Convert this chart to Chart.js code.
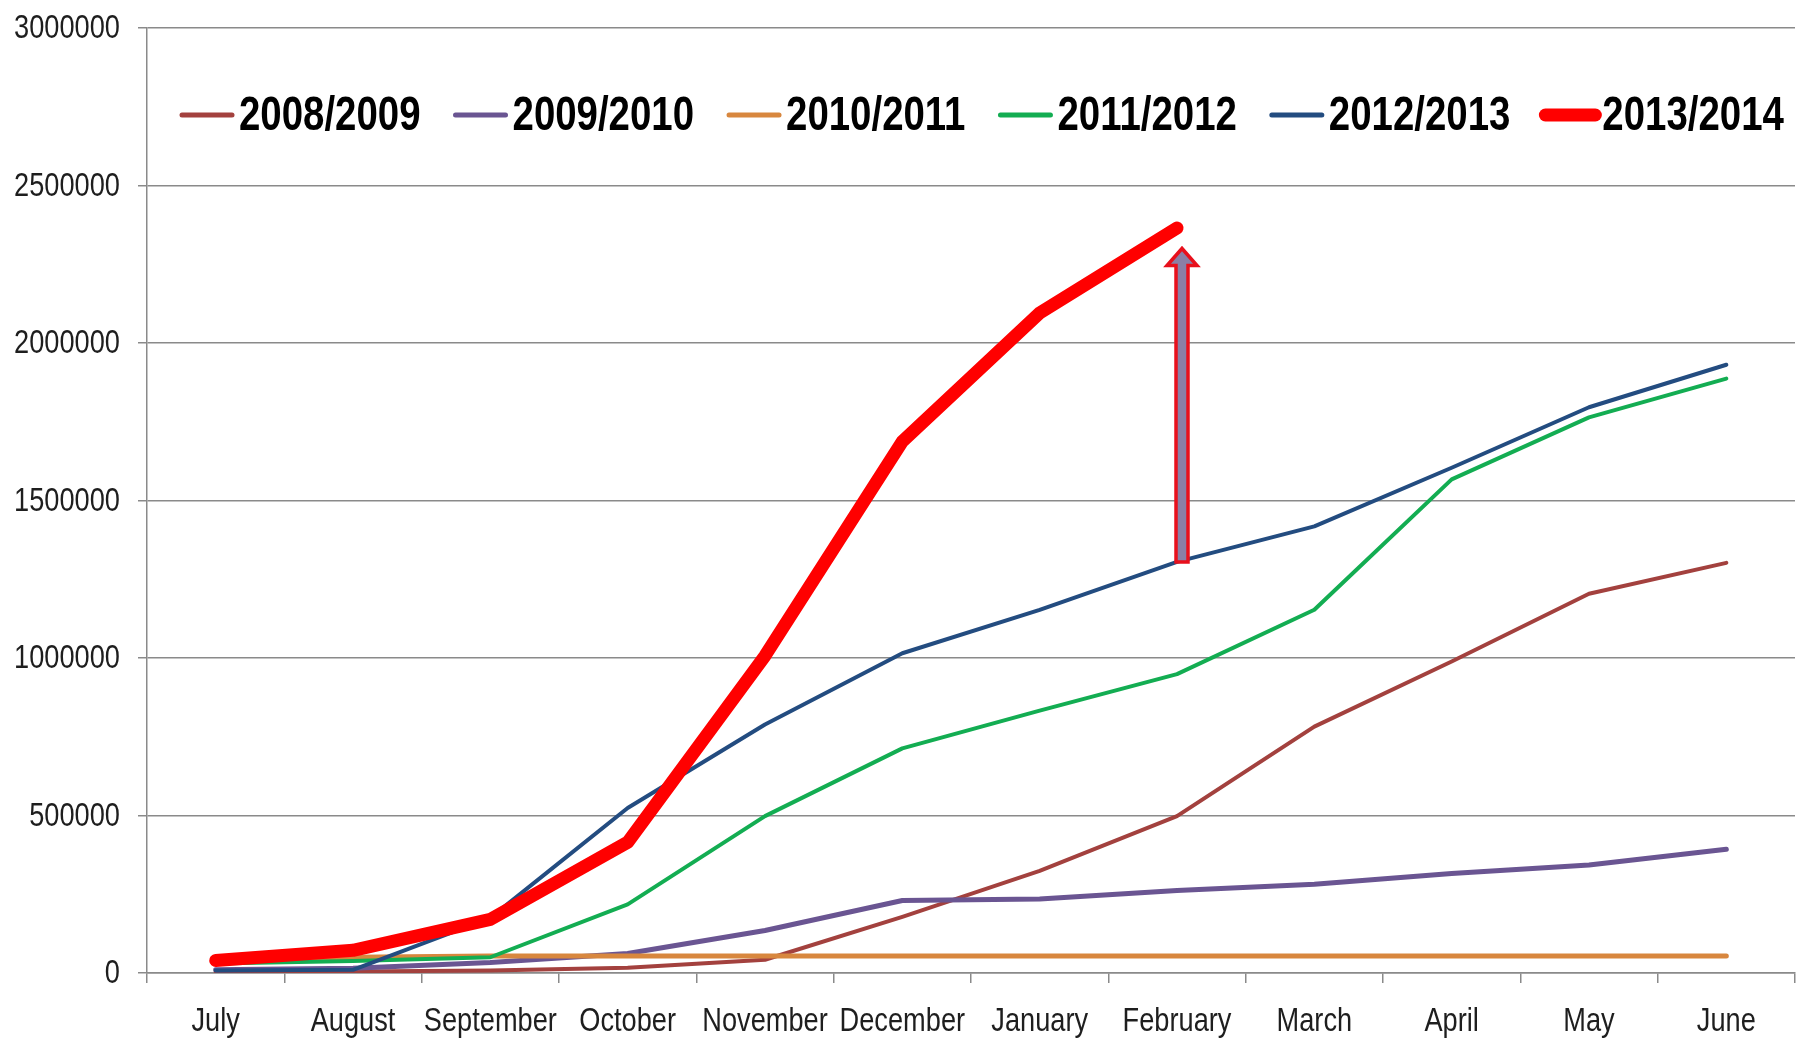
<!DOCTYPE html>
<html>
<head>
<meta charset="utf-8">
<script src="https://cdn.jsdelivr.net/npm/chart.js@4.4.0/dist/chart.umd.min.js"></script>
<style>
    html, body { margin: 0; padding: 0; background: #ffffff; }
    #wrap { width: 1797px; height: 1045px; }
</style>
</head>
<body>
<div id="wrap"><canvas id="chart"></canvas></div>
<script>
// Meses de la temporada (julio a junio)
const months = ['July', 'August', 'September', 'October', 'November', 'December',
    'January', 'February', 'March', 'April', 'May', 'June'];

// Valores acumulados
const season0809 = [5000, 5000, 8000, 17000, 42000, 178000, 324000, 498000, 782000, 989000, 1204000, 1302000];
const season0910 = [10000, 15000, 33000, 62000, 135000, 230000, 235000, 262000, 282000, 316000, 343000, 393000];
const season1011 = [35000, 50000, 54000, 54000, 54000, 54000, 54000, 54000, 54000, 54000, 54000, 54000];
const season1112 = [30000, 38000, 50000, 218000, 498000, 713000, 833000, 949000, 1153000, 1567000, 1764000, 1887000];
const season1213 = [8000, 10000, 175000, 524000, 789000, 1015000, 1153000, 1305000, 1418000, 1604000, 1796000, 1931000];
const season1314 = [40000, 72000, 170000, 415000, 1007000, 1687000, 2095000, 2365000];

const seasonLabels = ['2008/2009', '2009/2010', '2010/2011', '2011/2012', '2012/2013', '2013/2014'];
const yTicks = [0, 500000, 1000000, 1500000, 2000000, 2500000, 3000000];

// Flecha entre 2012/2013 y 2013/2014 en febrero
const arrowMonth = 'February';
const arrowFrom = 1305000;
const arrowTo = 2300000;

const FONT = '"Liberation Sans", Arial, sans-serif';
const SQUEEZE = 0.8; // texto estrecho tipo Calibri

// Escribe texto comprimido horizontalmente
function drawNarrow(ctx, text, x, y, align) {
    ctx.save();
    ctx.translate(x, y);
    ctx.scale(SQUEEZE, 1);
    ctx.textAlign = align;
    ctx.fillText(text, 0, 0);
    ctx.restore();
}

// Etiquetas de los ejes
const narrowTicks = {
    id: 'narrowTicks',
    afterDraw(chart) {
        const ctx = chart.ctx;
        const xs = chart.scales.x, ys = chart.scales.y;
        ctx.save();
        ctx.fillStyle = '#1e1e1e';
        ctx.font = '34px ' + FONT;
        ctx.textBaseline = 'middle';
        ys.ticks.forEach((t, i) => {
            drawNarrow(ctx, String(t.value), ys.right - 27, ys.getPixelForTick(i) + 1, 'right');
        });
        xs.ticks.forEach((t, i) => {
            drawNarrow(ctx, xs.getLabelForValue(t.value), xs.getPixelForTick(i), xs.top + 49, 'center');
        });
        ctx.restore();
    }
};

// Leyenda dibujada dentro del area del grafico
const insideLegend = {
    id: 'insideLegend',
    afterDraw(chart) {
        const ctx = chart.ctx;
        const area = chart.chartArea;
        ctx.save();
        ctx.font = 'bold 48px ' + FONT;
        ctx.textBaseline = 'middle';
        ctx.fillStyle = '#000000';
        const sample = 58, gapText = 3, gapItem = 31;
        let x = area.left + 31;
        const y = area.top + 87;
        chart.data.datasets.forEach(ds => {
            ctx.strokeStyle = ds.borderColor;
            ctx.lineWidth = ds.borderWidth > 6 ? 13 : 5;
            ctx.lineCap = 'round';
            ctx.beginPath();
            ctx.moveTo(x + 4, y);
            ctx.lineTo(x + sample - 4, y);
            ctx.stroke();
            x += sample + gapText;
            drawNarrow(ctx, ds.label, x, y + 2, 'left');
            x += ctx.measureText(ds.label).width * SQUEEZE + gapItem;
        });
        ctx.restore();
    }
};

// Flecha vertical
const arrowPlugin = {
    id: 'arrowPlugin',
    afterDatasetsDraw(chart) {
        const ctx = chart.ctx;
        const xs = chart.scales.x, ys = chart.scales.y;
        const x = xs.getPixelForValue(months.indexOf(arrowMonth)) + 5;
        const yBottom = ys.getPixelForValue(arrowFrom);
        const yTip = ys.getPixelForValue(arrowTo);
        const shaft = 6, head = 15, headH = 17;
        ctx.save();
        ctx.beginPath();
        ctx.moveTo(x - shaft, yBottom);
        ctx.lineTo(x - shaft, yTip + headH);
        ctx.lineTo(x - head, yTip + headH);
        ctx.lineTo(x, yTip);
        ctx.lineTo(x + head, yTip + headH);
        ctx.lineTo(x + shaft, yTip + headH);
        ctx.lineTo(x + shaft, yBottom);
        ctx.closePath();
        ctx.fillStyle = '#8a7fa6';
        ctx.fill();
        ctx.strokeStyle = '#e8101c';
        ctx.lineWidth = 3.5;
        ctx.stroke();
        ctx.restore();
    }
};

function lineSet(label, data, color, width, order) {
    return {
        label: label,
        data: data,
        borderColor: color,
        backgroundColor: color,
        borderWidth: width,
        pointRadius: 0,
        tension: 0,
        fill: false,
        borderJoinStyle: 'round',
        borderCapStyle: 'round',
        order: order
    };
}

new Chart(document.getElementById('chart'), {
    type: 'line',
    data: {
        labels: months,
        datasets: [
            lineSet(seasonLabels[0], season0809, '#a3413e', 4, 6),
            lineSet(seasonLabels[1], season0910, '#6a5592', 5, 5),
            lineSet(seasonLabels[2], season1011, '#d8873e', 5, 4),
            lineSet(seasonLabels[3], season1112, '#13ad52', 4, 3),
            lineSet(seasonLabels[4], season1213, '#234c80', 4, 2),
            lineSet(seasonLabels[5], season1314, '#ff0000', 13, 1)
        ]
    },
    options: {
        responsive: true,
        maintainAspectRatio: false,
        animation: false,
        layout: { padding: { left: 14, right: 2, top: 28, bottom: 0 } },
        plugins: {
            legend: { display: false },
            tooltip: { enabled: false }
        },
        scales: {
            x: {
                offset: true,
                afterFit(axis) { axis.height = 72; },
                grid: {
                    offset: true,
                    drawOnChartArea: false,
                    drawTicks: true,
                    tickLength: 10,
                    color: '#8a8a8a',
                    lineWidth: 1.5
                },
                border: { color: '#8a8a8a', width: 1.5 },
                ticks: { display: false, autoSkip: false }
            },
            y: {
                min: 0,
                max: 3000000,
                afterBuildTicks(axis) {
                    axis.ticks = yTicks.map(v => ({ value: v }));
                },
                afterFit(axis) { axis.width = 133; },
                grid: {
                    color: '#8a8a8a',
                    lineWidth: 1.5,
                    tickLength: 9
                },
                border: { color: '#8a8a8a', width: 1.5 },
                ticks: { display: false }
            }
        }
    },
    plugins: [arrowPlugin, narrowTicks, insideLegend]
});
</script>
</body>
</html>
